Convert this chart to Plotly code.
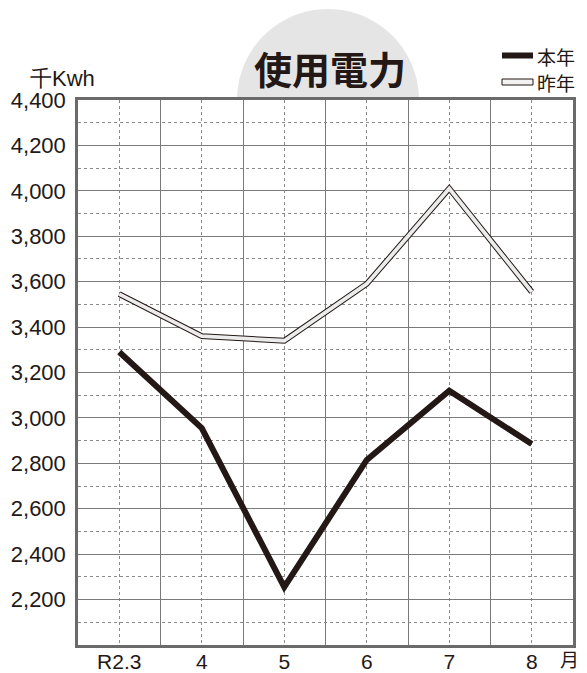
import math
import plotly.graph_objects as go

months = ["R2.3", "4", "5", "6", "7", "8"]
this_year = [3290, 2955, 2255, 2815, 3120, 2885]
last_year = [3545, 3360, 3340, 3590, 4010, 3555]
y_ticks = [2200, 2400, 2600, 2800, 3000, 3200, 3400, 3600, 3800, 4000, 4200, 4400]
y_tick_text = [f"{v:,}" for v in y_ticks]

INK = "#231815"
FONT = "Liberation Sans, Arial, sans-serif"
JFONT = "Noto Sans CJK JP, sans-serif"

# plot-area geometry in pixels (layout only)
L, R, T, B = 78, 573, 100, 645
W, H = R - L, B - T


def px(xp):
    return (xp - L) / W


def py(yp):
    return (B - yp) / H


x_idx = list(range(len(months)))

fig = go.Figure()
fig.add_trace(go.Scatter(x=x_idx, y=last_year, mode="lines",
                         line=dict(color=INK, width=5.8), hoverinfo="skip", showlegend=False))
fig.add_trace(go.Scatter(x=x_idx, y=last_year, mode="lines", name="昨年",
                         line=dict(color="#ececec", width=3.8), showlegend=False))
fig.add_trace(go.Scatter(x=x_idx, y=this_year, mode="lines", name="本年",
                         line=dict(color=INK, width=6), showlegend=False))

fig.update_xaxes(
    range=[-0.5, len(months) - 0.5],
    tickmode="array", tickvals=x_idx, ticktext=months,
    showgrid=True, gridcolor="#8a8a8a", gridwidth=1, griddash="3px,3px",
    minor=dict(tickmode="linear", tick0=0.5, dtick=1, showgrid=True,
               gridcolor="#7a7a7a", gridwidth=1.2, griddash="solid"),
    showline=True, linecolor="#6a6a6a", linewidth=2.5, mirror=True,
    ticks="", ticklabelstandoff=-4, automargin=False,
    tickfont=dict(family=FONT, size=21, color=INK),
    zeroline=False, fixedrange=True,
)
fig.update_yaxes(
    range=[2000, 4400],
    tickmode="array", tickvals=y_ticks, ticktext=y_tick_text,
    showgrid=True, gridcolor="#7a7a7a", gridwidth=1.2,
    minor=dict(tickmode="linear", tick0=2100, dtick=200, showgrid=True,
               gridcolor="#8a8a8a", gridwidth=1, griddash="3px,3px"),
    showline=True, linecolor="#6a6a6a", linewidth=2.5, mirror=True,
    ticks="", ticklabelstandoff=5, automargin=False,
    tickfont=dict(family=FONT, size=22, color=INK),
    zeroline=False, fixedrange=True,
)

# title half disc as a path above the plot area
cx, cy, r = 328, 100, 91
pts = []
for i in range(0, 61):
    a = math.pi * i / 60
    pts.append((px(cx - r * math.cos(a)), py(cy - r * math.sin(a))))
path = "M " + " L ".join(f"{x:.5f},{y:.5f}" for x, y in pts) + " Z"

shapes = [
    dict(type="path", xref="paper", yref="paper", layer="below", path=path,
         fillcolor="#e5e5e5", line=dict(width=0)),
    dict(type="rect", xref="paper", yref="paper",
         x0=px(502), x1=px(533), y0=py(58.5), y1=py(52.5),
         fillcolor=INK, line=dict(width=0)),
    dict(type="rect", xref="paper", yref="paper",
         x0=px(502), x1=px(533), y0=py(85), y1=py(79),
         fillcolor="#f2f2f2", line=dict(color=INK, width=1)),
]

annotations = [
    dict(text="<b>使用電力</b>", xref="paper", yref="paper",
         x=px(330), y=py(67), xanchor="center", yanchor="middle",
         showarrow=False, font=dict(family=JFONT, size=38, color=INK)),
    dict(text="本年", xref="paper", yref="paper",
         x=px(535), y=py(56), xanchor="left", yanchor="middle",
         showarrow=False, font=dict(family=JFONT, size=19, color=INK)),
    dict(text="昨年", xref="paper", yref="paper",
         x=px(535), y=py(82), xanchor="left", yanchor="middle",
         showarrow=False, font=dict(family=JFONT, size=19, color=INK)),
    dict(text="千Kwh", xref="paper", yref="paper",
         x=px(28), y=py(78), xanchor="left", yanchor="middle",
         showarrow=False, font=dict(family=FONT, size=22, color=INK)),
    dict(text="月", xref="paper", yref="paper",
         x=px(569), y=py(658), xanchor="center", yanchor="middle",
         showarrow=False, font=dict(family=JFONT, size=19, color=INK)),
]

fig.update_layout(
    width=587, height=673,
    margin=dict(l=L, r=587 - R, t=T, b=673 - B, pad=0),
    paper_bgcolor="white", plot_bgcolor="white",
    shapes=shapes, annotations=annotations,
    showlegend=False,
)

fig.write_html("out.html",
               config={"displayModeBar": False},
               post_script="document.body.style.margin='0';document.body.style.overflow='hidden';")
